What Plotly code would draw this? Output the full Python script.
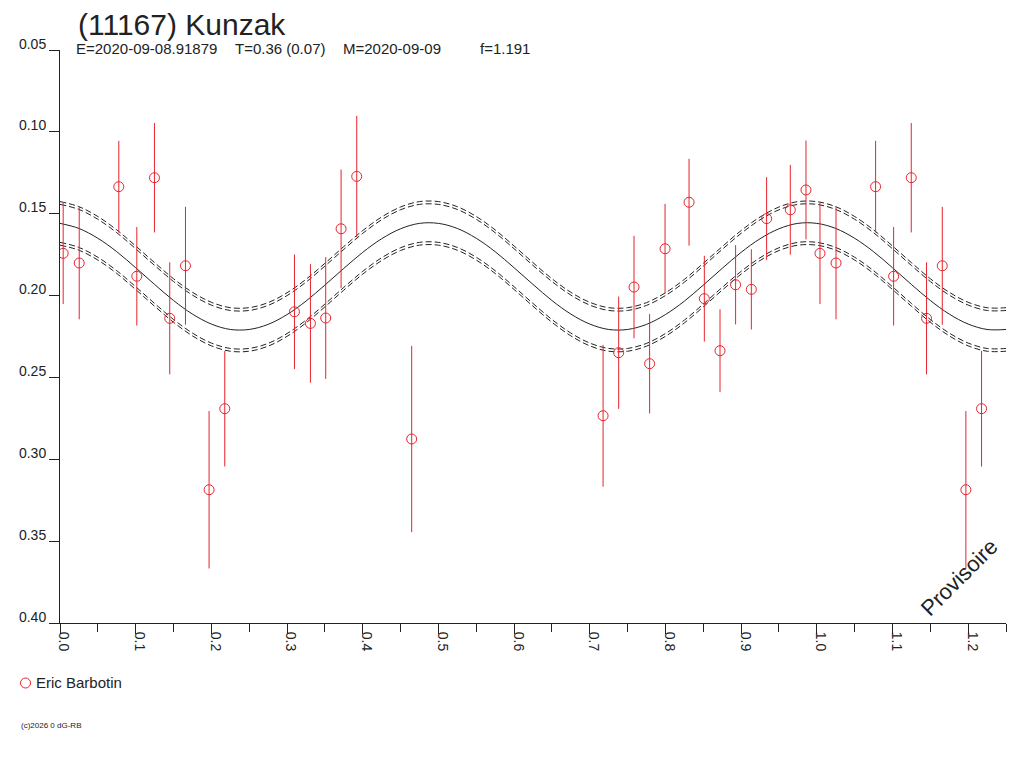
import plotly.graph_objects as go

# ---------------- data ----------------
# observed points (phase, reduced magnitude, error)
phase = [0.0042, 0.0254, 0.0777, 0.1015, 0.1248, 0.1450, 0.1658, 0.1970, 0.2177,
         0.3098, 0.3309, 0.3511, 0.3714, 0.3921, 0.4647,
         0.7176, 0.7382, 0.7585, 0.7791, 0.7995, 0.8312, 0.8514, 0.8721, 0.8927,
         0.9135, 0.9337, 0.9650, 0.9857]
mag = [0.1742, 0.1801, 0.1335, 0.1882, 0.1280, 0.2139, 0.1818, 0.3186, 0.2691,
       0.2099, 0.2170, 0.2137, 0.1592, 0.1272, 0.2876,
       0.2734, 0.2349, 0.1948, 0.2416, 0.1714, 0.1430, 0.2019, 0.2337, 0.1934,
       0.1962, 0.1530, 0.1476, 0.1355]
err = [0.0310, 0.0344, 0.0280, 0.0301, 0.0334, 0.0342, 0.0360, 0.0481, 0.0353,
       0.0350, 0.0362, 0.0372, 0.0362, 0.0370, 0.0569,
       0.0433, 0.0343, 0.0313, 0.0304, 0.0274, 0.0265, 0.0262, 0.0253, 0.0242,
       0.0245, 0.0253, 0.0274, 0.0302]

# fitted light curve sampled every 0.025 in phase (0 .. 1.25)
fit_phase_step = 0.025
fit_mag = [0.1559, 0.1590, 0.1650, 0.1732, 0.1830, 0.1932, 0.2030, 0.2113, 0.2174, 0.2207,
           0.2207, 0.2176, 0.2116, 0.2034, 0.1936, 0.1834, 0.1736, 0.1653, 0.1592, 0.1559,
           0.1559, 0.1590, 0.1650, 0.1732, 0.1830, 0.1932, 0.2030, 0.2113, 0.2174, 0.2207,
           0.2207, 0.2176, 0.2116, 0.2034, 0.1936, 0.1834, 0.1736, 0.1653, 0.1592, 0.1559,
           0.1559, 0.1590, 0.1650, 0.1732, 0.1830, 0.1932, 0.2030, 0.2113, 0.2174, 0.2207,
           0.2207]
band_inner = 0.0116
band_outer = 0.0133

y_ticks = [0.05, 0.10, 0.15, 0.20, 0.25, 0.30, 0.35, 0.40]
y_ticktext = ["0.05", "0.10", "0.15", "0.20", "0.25", "0.30", "0.35", "0.40"]
x_ticks = [0.0, 0.1, 0.2, 0.3, 0.4, 0.5, 0.6, 0.7, 0.8, 0.9, 1.0, 1.1, 1.2]
x_ticktext = ["0.0", "0.1", "0.2", "0.3", "0.4", "0.5", "0.6", "0.7", "0.8", "0.9", "1.0", "1.1", "1.2"]

title_text = "(11167) Kunzak"
info_texts = ["E=2020-09-08.91879", "T=0.36 (0.07)", "M=2020-09-09", "f=1.191"]
observer = "Eric Barbotin"
copyright_text = "(c)2026 0 dG-RB"
watermark = "Provisoire"

# ---------------- build ----------------
RED = "#e8232d"
INK = "#222222"
FONT = "Liberation Sans, Arial, sans-serif"

# phases beyond 1 repeat the first part of the cycle
x_max = 1.25
px = phase + [p + 1 for p in phase if p + 1 <= x_max]
py = mag + [m for p, m in zip(phase, mag) if p + 1 <= x_max]
pe = err + [e for p, e in zip(phase, err) if p + 1 <= x_max]

fx = [i * fit_phase_step for i in range(len(fit_mag))]

fig = go.Figure()

for off in (-band_outer, -band_inner, band_inner, band_outer):
    fig.add_trace(go.Scatter(
        x=fx, y=[m + off for m in fit_mag], mode="lines",
        line=dict(color=INK, width=1, dash="6px,3px", shape="spline"),
        hoverinfo="skip", showlegend=False))

fig.add_trace(go.Scatter(
    x=fx, y=fit_mag, mode="lines",
    line=dict(color=INK, width=1, shape="spline"),
    hoverinfo="skip", showlegend=False))

fig.add_trace(go.Scatter(
    x=px, y=py, mode="markers",
    marker=dict(symbol="circle-open", size=10, color=RED, line=dict(width=1, color=RED)),
    error_y=dict(type="data", array=pe, visible=True, color=RED, thickness=1, width=0),
    name=observer, showlegend=False))

# page offset of the figure (body margin) and plot area geometry in page pixels
OFF = 8
W, H = 1008, 752
PL, PR, PT, PB = 59.5, 1006, 50, 623          # plot box in page pixels
L, R, T, B = PL - OFF, OFF + W - PR, PT - OFF, OFF + H - PB


def xp(x):
    return (x - PL) / (PR - PL)


def yp(y):
    return (PB - y) / (PB - PT)


ann = []
ann.append(dict(text=title_text, x=xp(76), y=yp(25), xref="paper", yref="paper",
                xanchor="left", yanchor="middle", showarrow=False,
                font=dict(family=FONT, size=30, color=INK)))
for tx, xpix in zip(info_texts, [74, 233, 341, 478]):
    ann.append(dict(text=tx, x=xp(xpix), y=yp(48), xref="paper", yref="paper",
                    xanchor="left", yanchor="middle", showarrow=False,
                    font=dict(family=FONT, size=15, color=INK)))
ann.append(dict(text=observer, x=xp(33), y=yp(683), xref="paper", yref="paper",
                xanchor="left", yanchor="middle", showarrow=False,
                font=dict(family=FONT, size=15, color=INK)))
ann.append(dict(text=copyright_text, x=xp(18), y=yp(725), xref="paper", yref="paper",
                xanchor="left", yanchor="middle", showarrow=False,
                font=dict(family=FONT, size=8, color=INK)))
ann.append(dict(text=watermark, x=xp(959), y=yp(577), xref="paper", yref="paper",
                xanchor="center", yanchor="middle", showarrow=False, textangle=-45,
                font=dict(family=FONT, size=22, color=INK)))

shapes = [dict(type="circle", xref="paper", yref="paper",
               xsizemode="pixel", ysizemode="pixel",
               xanchor=xp(25), yanchor=yp(683),
               x0=-5, x1=5, y0=-5, y1=5,
               line=dict(color=RED, width=1))]

fig.update_layout(
    width=W, height=H,
    margin=dict(l=L, r=R, t=T, b=B, pad=0),
    paper_bgcolor="white", plot_bgcolor="white",
    showlegend=False,
    annotations=ann, shapes=shapes,
    font=dict(family=FONT, size=14, color=INK),
)
fig.update_xaxes(
    range=[0, x_max], tickvals=x_ticks, ticktext=x_ticktext, tickangle=90,
    ticks="outside", ticklen=10, tickcolor=INK, tickwidth=1,
    showline=True, linecolor=INK, linewidth=1, showgrid=False, zeroline=False,
    tickfont=dict(family=FONT, size=14, color=INK),
    minor=dict(dtick=0.05, tick0=0, ticks="outside", ticklen=8, tickcolor=INK, tickwidth=1),
    ticklabelposition="outside right",
    ticklabelstandoff=5, ticklabelshift=3,
)
fig.update_yaxes(
    range=[0.40, 0.05], tickvals=y_ticks, ticktext=y_ticktext,
    ticks="outside", ticklen=10, tickcolor=INK, tickwidth=1,
    showline=True, linecolor=INK, linewidth=1, showgrid=False, zeroline=False,
    tickfont=dict(family=FONT, size=14, color=INK),
    ticklabelposition="outside top",
    ticklabelstandoff=10, ticklabelshift=-4,
)

fig.write_html("out.html")
